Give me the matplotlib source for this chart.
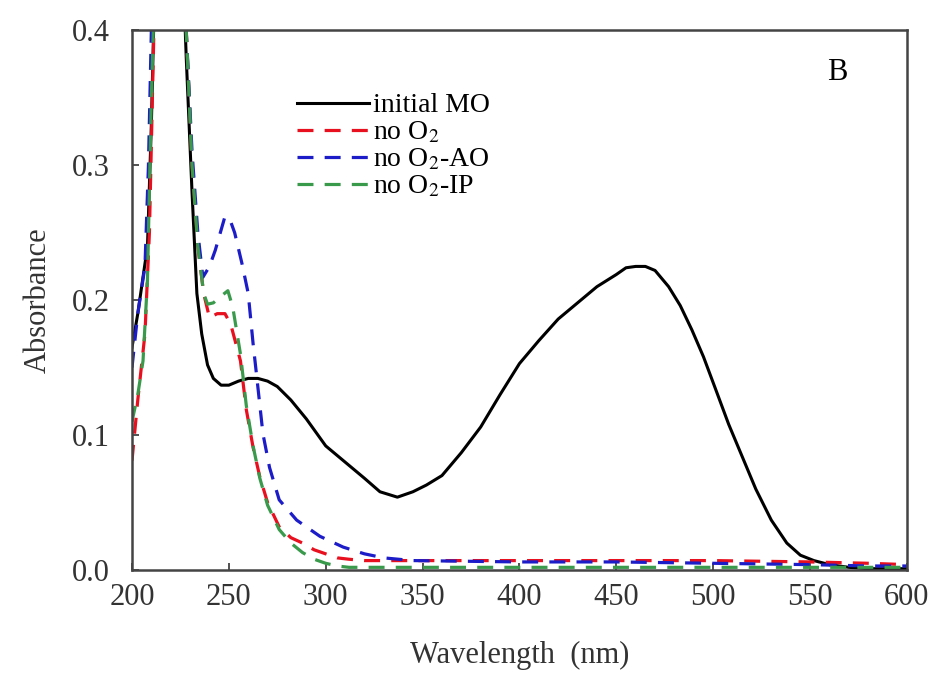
import matplotlib
matplotlib.use("Agg")
import matplotlib.pyplot as plt

plt.rcParams['font.family'] = ['Liberation Serif', 'DejaVu Serif']
plt.rcParams['mathtext.fontset'] = 'stix'

# initial MO (solid black)
wl_mo = [200, 203, 206, 208, 210, 212, 215, 220, 224, 226, 228, 231, 233.5, 236, 239,
         242, 246, 250, 255, 260, 265, 270, 275, 282, 290, 300, 310, 320, 328, 337,
         345, 352, 360, 370, 380, 390, 400, 410, 420, 430, 440, 450, 455, 460, 465,
         470, 477, 483, 489, 495, 501, 508, 515, 522, 530, 538, 545, 552, 560, 570,
         580, 590, 600]
abs_mo = [0.165, 0.19, 0.22, 0.24, 0.33, 0.45, 0.55, 0.6, 0.52, 0.46, 0.38, 0.28, 0.205,
          0.175, 0.152, 0.142, 0.137, 0.137, 0.14, 0.142, 0.142, 0.14, 0.136, 0.126,
          0.112, 0.092, 0.08, 0.068, 0.058, 0.054, 0.058, 0.063, 0.07, 0.087, 0.106,
          0.13, 0.153, 0.17, 0.186, 0.198, 0.21, 0.219, 0.224, 0.225, 0.225, 0.222,
          0.21, 0.196, 0.178, 0.158, 0.135, 0.108, 0.084, 0.06, 0.037, 0.02, 0.011,
          0.007, 0.004, 0.002, 0.001, 0.001, 0.001]

# no O2 (red dashed)
wl_no2 = [200, 203, 206.7, 209, 211, 213, 218, 223, 226, 228, 231, 234, 237, 240, 244,
          248, 251, 256, 259, 262.5, 266, 270, 276, 282, 288, 294, 300, 306, 312, 320,
          340, 400, 450, 500, 550, 580, 600]
abs_no2 = [0.081, 0.126, 0.175, 0.25, 0.38, 0.5, 0.58, 0.55, 0.47, 0.4, 0.3, 0.24,
           0.205, 0.187, 0.19, 0.19, 0.182, 0.155, 0.119, 0.091, 0.069, 0.05, 0.032,
           0.024, 0.02, 0.015, 0.012, 0.009, 0.008, 0.007, 0.007, 0.007, 0.007, 0.007,
           0.006, 0.005, 0.004]

# no O2-AO (blue dashed)
wl_ao = [200, 203, 206.7, 208.5, 210, 213, 218, 223, 226, 228, 231, 234, 236.6, 240,
         243, 246, 248, 251, 253, 256.8, 260, 262.5, 264.5, 267.6, 271, 276, 285, 297,
         309, 320, 330, 345, 400, 450, 500, 550, 580, 600]
abs_ao = [0.15, 0.19, 0.225, 0.3, 0.4, 0.5, 0.58, 0.55, 0.47, 0.4, 0.31, 0.25, 0.217,
          0.225, 0.237, 0.252, 0.262, 0.258, 0.25, 0.227, 0.205, 0.168, 0.142, 0.101,
          0.076, 0.052, 0.037, 0.025, 0.017, 0.012, 0.009, 0.007, 0.006, 0.006, 0.005,
          0.004, 0.003, 0.003]

# no O2-IP (green dashed)
wl_ip = [200, 203, 205.7, 208, 210, 213, 218, 223, 226, 228, 231, 234, 237, 239, 242,
         246, 249.5, 252, 256, 259, 262.5, 266, 270, 276, 282, 288, 294, 300, 306, 312,
         320, 350, 400, 450, 500, 550, 600]
abs_ip = [0.11, 0.13, 0.155, 0.215, 0.35, 0.5, 0.58, 0.55, 0.47, 0.4, 0.3, 0.24, 0.205,
          0.197, 0.198, 0.203, 0.207, 0.195, 0.16, 0.122, 0.092, 0.068, 0.048, 0.03,
          0.02, 0.013, 0.008, 0.005, 0.003, 0.002, 0.002, 0.002, 0.002, 0.002, 0.002,
          0.002, 0.002]

fig = plt.figure(figsize=(9.34, 6.73), dpi=100)
ax = fig.add_axes([0.1413, 0.153, 0.8297, 0.802])

ax.plot(wl_mo, abs_mo, color='black', lw=2.2, label='initial MO')
ax.plot(wl_no2, abs_no2, color='#e8101e', lw=2.3, ls=(0, (5, 3.5)), label=r'no O$_2$')
ax.plot(wl_ao, abs_ao, color='#1c1cc8', lw=2.3, ls=(0, (5, 3.5)), label=r'no O$_2$-AO')
ax.plot(wl_ip, abs_ip, color='#3a9a4c', lw=2.3, ls=(0, (5, 3.5)), label=r'no O$_2$-IP')

ax.set_xlim(200, 600)
ax.set_ylim(0, 0.4)
ax.set_xticks(range(200, 601, 50))
ax.set_yticks([0.0, 0.1, 0.2, 0.3, 0.4])
ax.set_yticklabels(['0.0', '0.1', '0.2', '0.3', '0.4'])
ax.tick_params(direction='in', length=5, width=1.2, labelsize=22, colors='#333333',
               top=False, right=False)
ax.tick_params(axis='x', pad=9)
ax.tick_params(axis='y', pad=16)
for s in ax.spines.values():
    s.set_linewidth(1.8)
    s.set_color('#444444')

ax.set_xlabel('Wavelength  (nm)', fontsize=22, color='#333333', labelpad=21)
ax.set_ylabel('Absorbance', fontsize=22, color='#333333', labelpad=14)

ax.text(0.91, 0.922, 'B', transform=ax.transAxes, fontsize=22, ha='center', va='center')

leg = ax.legend(loc='upper left', bbox_to_anchor=(0.213, 0.884), frameon=False,
                fontsize=20, handlelength=2.6, handletextpad=0.15, labelspacing=0.05,
                borderpad=0, borderaxespad=0)

fig.savefig('out.png', dpi=100)
